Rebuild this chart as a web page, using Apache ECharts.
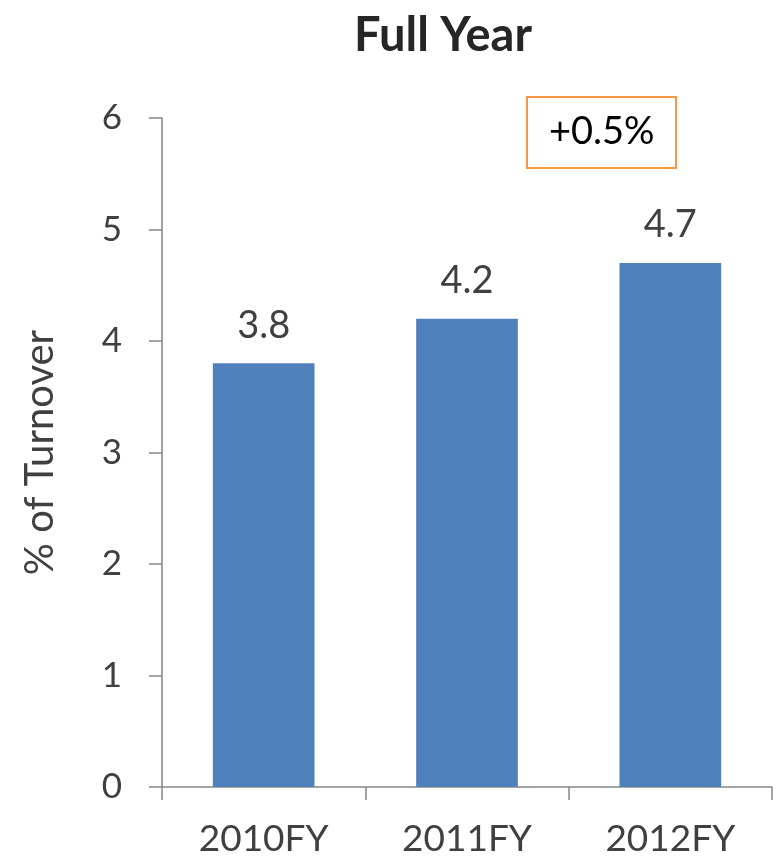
<!DOCTYPE html>
<html>
<head>
<meta charset="utf-8">
<script src="https://cdn.jsdelivr.net/npm/echarts@6/dist/echarts.min.js"></script>
<style>
  html, body { margin: 0; padding: 0; background: #ffffff; }
  #chart { width: 776px; height: 860px; }
</style>
</head>
<body>
<div id="chart"></div>
<script>
// Turnover share by financial year
const categories = ['2010FY', '2011FY', '2012FY'];
const turnoverPct = [3.8, 4.2, 4.7];
const yTicks = [0, 1, 2, 3, 4, 5, 6];
const changeNote = '+0.5%';

const font = 'Lato, "Open Sans", sans-serif';
const textGray = '#404040';
const axisGray = '#868686';

const chart = echarts.init(document.getElementById('chart'), null, { renderer: 'canvas' });
chart.setOption({
  backgroundColor: '#ffffff',
  animation: false,
  title: [
    {
      text: 'Full Year',
      left: 438, top: 7,
      textAlign: 'center',
      textStyle: { fontFamily: font, fontWeight: 'bold', fontSize: 47, color: '#262626' }
    },
    {
      text: changeNote,
      left: 527, top: 97,
      borderColor: '#F79646',
      borderWidth: 2,
      padding: [16, 22, 17, 22],
      textStyle: { fontFamily: font, fontWeight: 'normal', fontSize: 38, color: '#000000' }
    }
  ],
  grid: { left: 162, top: 118, right: 4, bottom: 73, containLabel: false },
  xAxis: {
    type: 'category',
    data: categories,
    axisLine: { lineStyle: { color: axisGray, width: 1.5 } },
    axisTick: { show: true, length: 13, alignWithLabel: false, lineStyle: { color: axisGray, width: 1.5 } },
    axisLabel: { margin: 34, fontFamily: font, fontSize: 37, color: textGray }
  },
  yAxis: {
    type: 'value',
    min: yTicks[0],
    max: yTicks[yTicks.length - 1],
    interval: 1,
    name: '% of Turnover',
    nameLocation: 'middle',
    nameGap: 102,
    nameTextStyle: { fontFamily: font, fontSize: 40, color: textGray },
    axisLine: { show: true, lineStyle: { color: axisGray, width: 1.5 } },
    axisTick: { show: true, length: 13, lineStyle: { color: axisGray, width: 1.5 } },
    axisLabel: { margin: 40, fontFamily: font, fontSize: 35, color: textGray },
    splitLine: { show: false }
  },
  series: [{
    type: 'bar',
    data: turnoverPct,
    barWidth: '50%',
    itemStyle: { color: '#4F81BD' },
    label: {
      show: true,
      position: 'top',
      distance: 19,
      fontFamily: font,
      fontSize: 38,
      color: textGray,
      formatter: p => p.value.toFixed(1)
    }
  }]
});
</script>
</body>
</html>
